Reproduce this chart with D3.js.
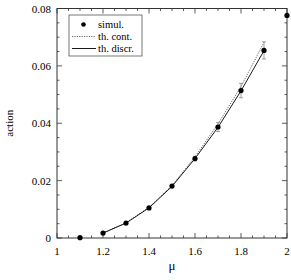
<!DOCTYPE html>
<html>
<head>
<meta charset="utf-8">
<script src="https://cdn.jsdelivr.net/npm/d3@7"></script>
<style>
  body { margin: 0; background: #fff; }
</style>
</head>
<body>
<div id="chart"></div>
<script>
'use strict';

// simulation points
var mu = [1.1, 1.2, 1.3, 1.4, 1.5, 1.6, 1.7, 1.8, 1.9, 2.0];
var simul = [0.0001, 0.0017, 0.0052, 0.0105, 0.0181, 0.0277, 0.0387, 0.0514, 0.0654, 0.0776];
var simulErr = [0, 0, 0, 0.0003, 0.0004, 0.0008, 0.0016, 0.0025, 0.003, 0];

// theory curves
var muTh = [1.2, 1.3, 1.4, 1.5, 1.6, 1.7, 1.8, 1.9];
var thCont = [0.0018, 0.0053, 0.0107, 0.0183, 0.0283, 0.0398, 0.0528, 0.0682];
var thDiscr = [0.0017, 0.0052, 0.0105, 0.0180, 0.0277, 0.0386, 0.0513, 0.0653];

var xTicks = [1, 1.2, 1.4, 1.6, 1.8, 2];
var yTicks = [0, 0.02, 0.04, 0.06, 0.08];
var legendLabels = ['simul.', 'th. cont.', 'th. discr.'];

var width = 291, height = 280;
var margin = {left: 57, right: 4, top: 8.5, bottom: 42};
var serif = '"Liberation Serif", "Times New Roman", Times, "DejaVu Serif", serif';

var svg = d3.select('#chart').append('svg')
    .attr('width', width)
    .attr('height', height)
    .style('font-family', serif);

var x = d3.scaleLinear().domain([1, 2]).range([margin.left, width - margin.right]);
var y = d3.scaleLinear().domain([0, 0.08]).range([height - margin.bottom, margin.top]);

var x0 = x.range()[0], x1 = x.range()[1];
var y0 = y.range()[0], y1 = y.range()[1];

// minor + major ticks, drawn inward on all four sides
var axisColor = '#333';
var xMinor = d3.range(1, 2.0001, 0.05);
var yMinor = d3.range(0, 0.08001, 0.005);

function isMajor(v, list) {
    return list.some(function(t) { return Math.abs(t - v) < 1e-6; });
}

var ticks = svg.append('g').attr('stroke', axisColor).attr('stroke-width', 0.8);
xMinor.forEach(function(v) {
    var len = isMajor(v, xTicks) ? 5 : 2.5;
    ticks.append('line').attr('x1', x(v)).attr('x2', x(v)).attr('y1', y0).attr('y2', y0 - len);
    ticks.append('line').attr('x1', x(v)).attr('x2', x(v)).attr('y1', y1).attr('y2', y1 + len);
});
yMinor.forEach(function(v) {
    var len = isMajor(v, yTicks) ? 5 : 2.5;
    ticks.append('line').attr('x1', x0).attr('x2', x0 + len).attr('y1', y(v)).attr('y2', y(v));
    ticks.append('line').attr('x1', x1).attr('x2', x1 - len).attr('y1', y(v)).attr('y2', y(v));
});

svg.append('rect')
    .attr('x', x0).attr('y', y1)
    .attr('width', x1 - x0).attr('height', y0 - y1)
    .attr('fill', 'none')
    .attr('stroke', axisColor)
    .attr('stroke-width', 1);

// tick labels
svg.append('g').selectAll('text')
    .data(xTicks)
    .enter().append('text')
    .attr('x', function(d) { return x(d); })
    .attr('y', y0 + 17)
    .attr('text-anchor', 'middle')
    .attr('font-size', 11)
    .text(function(d) { return d3.format('~g')(d); });

svg.append('g').selectAll('text')
    .data(yTicks)
    .enter().append('text')
    .attr('x', x0 - 6)
    .attr('y', function(d) { return y(d) + 4; })
    .attr('text-anchor', 'end')
    .attr('font-size', 11)
    .text(function(d) { return d === 0 ? '0' : d3.format('.2f')(d); });

// axis titles
svg.append('text')
    .attr('x', (x0 + x1) / 2)
    .attr('y', height - 10)
    .attr('text-anchor', 'middle')
    .attr('font-size', 13)
    .text('μ');

svg.append('text')
    .attr('transform', 'translate(13,' + ((y0 + y1) / 2) + ') rotate(-90)')
    .attr('text-anchor', 'middle')
    .attr('font-size', 11)
    .text('action');

// curves
var line = d3.line()
    .x(function(d) { return x(d[0]); })
    .y(function(d) { return y(d[1]); });

svg.append('path')
    .datum(d3.zip(muTh, thCont))
    .attr('d', line)
    .attr('fill', 'none')
    .attr('stroke', '#555')
    .attr('stroke-width', 0.9)
    .attr('stroke-dasharray', '1.2,1.2');

svg.append('path')
    .datum(d3.zip(muTh, thDiscr))
    .attr('d', line)
    .attr('fill', 'none')
    .attr('stroke', '#000')
    .attr('stroke-width', 0.9);

// error bars
var pts = d3.zip(mu, simul, simulErr);
var err = svg.append('g').attr('stroke', '#888').attr('stroke-width', 0.8);
pts.filter(function(d) { return d[2] > 0; }).forEach(function(d) {
    var cx = x(d[0]);
    err.append('line').attr('x1', cx).attr('x2', cx).attr('y1', y(d[1] - d[2])).attr('y2', y(d[1] + d[2]));
    err.append('line').attr('x1', cx - 2).attr('x2', cx + 2).attr('y1', y(d[1] - d[2])).attr('y2', y(d[1] - d[2]));
    err.append('line').attr('x1', cx - 2).attr('x2', cx + 2).attr('y1', y(d[1] + d[2])).attr('y2', y(d[1] + d[2]));
});

svg.append('g').selectAll('circle')
    .data(pts)
    .enter().append('circle')
    .attr('cx', function(d) { return x(d[0]); })
    .attr('cy', function(d) { return y(d[1]); })
    .attr('r', 2.6)
    .attr('fill', '#000');

// legend
var legend = svg.append('g').attr('transform', 'translate(69,15)');
legend.append('rect')
    .attr('width', 73).attr('height', 41)
    .attr('fill', '#fff')
    .attr('stroke', '#555')
    .attr('stroke-width', 0.8);

legendLabels.forEach(function(label, i) {
    var ly = 9.5 + i * 12;
    if (i === 0) {
        legend.append('circle').attr('cx', 14.5).attr('cy', ly).attr('r', 2.3).attr('fill', '#000');
    } else {
        legend.append('line')
            .attr('x1', 3).attr('x2', 27).attr('y1', ly).attr('y2', ly)
            .attr('stroke', i === 1 ? '#555' : '#000')
            .attr('stroke-width', 0.9)
            .attr('stroke-dasharray', i === 1 ? '1.2,1.2' : null);
    }
    legend.append('text')
        .attr('x', 29)
        .attr('y', ly + 3.5)
        .attr('font-size', 10.5)
        .text(label);
});
</script>
</body>
</html>
